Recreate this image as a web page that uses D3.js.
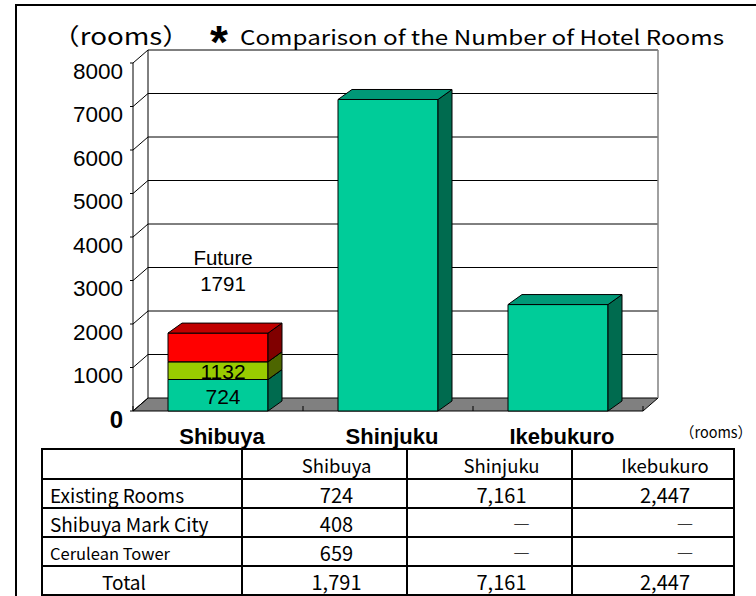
<!DOCTYPE html>
<html>
<head>
<meta charset="utf-8">
<script src="https://cdn.jsdelivr.net/npm/d3@7"></script>
<style>
  body { margin: 0; background: #fff; }
  svg { display: block; }
</style>
</head>
<body>
<div id="chart"></div>
<script>
const categories = ['Shibuya', 'Shinjuku', 'Ikebukuro'];
const existingRooms = [724, 7161, 2447];
const markCity = [408, 0, 0];
const ceruleanTower = [659, 0, 0];
const yTicks = [0, 1000, 2000, 3000, 4000, 5000, 6000, 7000, 8000];
const rowLabels = ['Existing Rooms', 'Shibuya Mark City', 'Cerulean Tower', 'Total'];

const width = 756;
const height = 596;
const gothic = '"Noto Sans CJK JP", "Noto Sans", sans-serif';
const arial = '"Liberation Sans", Arial, sans-serif';

const svg = d3.select('#chart')
  .append('svg')
  .attr('width', width)
  .attr('height', height);

// outer frame
svg.append('path')
  .attr('d', `M16,${height}V5H${width}`)
  .attr('fill', 'none')
  .attr('stroke', '#000')
  .attr('stroke-width', 2);

// 3d layout
const depth = { x: 15, y: -13 };
const barDepth = { x: 14, y: -10 };
const y = d3.scaleLinear().domain([0, 8000]).range([411, 63]);
const x = d3.scaleBand().domain(categories).range([133, 643]);
const barWidth = 100;
const barX = d => x(d) + (x.bandwidth() - barWidth) / 2;

const plot = svg.append('g');

// floor
const [x0, x1] = x.range();
plot.append('path')
  .attr('d', `M${x0},${y(0)}L${x1},${y(0)}L${x1 + depth.x},${y(0) + depth.y}L${x0 + depth.x},${y(0) + depth.y}Z`)
  .attr('fill', '#808080')
  .attr('stroke', '#000')
  .attr('stroke-width', 1);

// back wall gridlines and left wall diagonals
yTicks.forEach(t => {
  const yb = y(t) + depth.y;
  if (t > 0) {
    plot.append('line')
      .attr('x1', x0 + depth.x).attr('x2', x1 + depth.x)
      .attr('y1', yb).attr('y2', yb)
      .attr('stroke', '#000');
  }
  plot.append('line')
    .attr('x1', x0).attr('y1', y(t))
    .attr('x2', x0 + depth.x).attr('y2', yb)
    .attr('stroke', '#000');
  plot.append('line')
    .attr('x1', x0 - 3).attr('x2', x0)
    .attr('y1', y(t)).attr('y2', y(t))
    .attr('stroke', '#000');
});

// wall edges
plot.append('line')
  .attr('x1', x0).attr('x2', x0)
  .attr('y1', y(8000)).attr('y2', y(0))
  .attr('stroke', '#000');
plot.append('line')
  .attr('x1', x0 + depth.x).attr('x2', x0 + depth.x)
  .attr('y1', y(8000) + depth.y).attr('y2', y(0) + depth.y)
  .attr('stroke', '#000');
plot.append('line')
  .attr('x1', x1 + depth.x).attr('x2', x1 + depth.x)
  .attr('y1', y(8000) + depth.y).attr('y2', y(0) + depth.y)
  .attr('stroke', '#808080')
  .attr('stroke-width', 1.5);

// category ticks on the floor edge
d3.range(categories.length + 1).forEach(i => {
  const tx = x0 + i * x.bandwidth();
  plot.append('line')
    .attr('x1', tx).attr('x2', tx)
    .attr('y1', y(0) - 5).attr('y2', y(0))
    .attr('stroke', '#000');
});

// y tick labels
svg.append('g')
  .selectAll('text')
  .data(yTicks)
  .join('text')
  .attr('x', 123)
  .attr('y', d => y(d) + 8)
  .attr('text-anchor', 'end')
  .attr('dominant-baseline', 'central')
  .attr('font-family', arial)
  .attr('font-size', d => d === 0 ? 24 : 22.5)
  .attr('font-weight', d => d === 0 ? 'bold' : 'normal')
  .text(d => d);

// stacked bars
const table = categories.map((c, i) => ({
  category: c,
  existing: existingRooms[i],
  mark: markCity[i],
  cerulean: ceruleanTower[i]
}));
const keys = ['existing', 'mark', 'cerulean'];
const colors = {
  existing: { front: '#00CC99', top: '#009977', side: '#006B4F' },
  mark: { front: '#99CC00', top: '#7A9900', side: '#4D6600' },
  cerulean: { front: '#FF0000', top: '#C00000', side: '#800000' }
};
const stack = d3.stack().keys(keys)(table);

const bars = svg.append('g');
stack.forEach(series => {
  const col = colors[series.key];
  series.forEach((seg, i) => {
    if (seg[1] - seg[0] <= 0) return;
    const bx = barX(categories[i]);
    const yTop = y(seg[1]);
    const yBot = y(seg[0]);
    const g = bars.append('g')
      .attr('stroke', '#000')
      .attr('stroke-width', 1)
      .attr('stroke-linejoin', 'round');
    g.append('rect')
      .attr('x', bx).attr('y', yTop)
      .attr('width', barWidth).attr('height', yBot - yTop)
      .attr('fill', col.front);
    g.append('path')
      .attr('d', `M${bx + barWidth},${yTop}L${bx + barWidth + barDepth.x},${yTop + barDepth.y}L${bx + barWidth + barDepth.x},${yBot + barDepth.y}L${bx + barWidth},${yBot}Z`)
      .attr('fill', col.side);
    g.append('path')
      .attr('d', `M${bx},${yTop}L${bx + barDepth.x},${yTop + barDepth.y}L${bx + barWidth + barDepth.x},${yTop + barDepth.y}L${bx + barWidth},${yTop}Z`)
      .attr('fill', col.top);
  });
});

// Shibuya labels (cumulative totals)
const shibuya = 0;
const labelX = barX(categories[shibuya]) + barWidth / 2 + 5;
const cum = stack.map(s => s[shibuya]);
const labels = svg.append('g')
  .attr('font-family', arial)
  .attr('text-anchor', 'middle')
  .attr('dominant-baseline', 'central');
labels.append('text')
  .attr('x', labelX).attr('y', (y(cum[0][0]) + y(cum[0][1])) / 2 + 1)
  .attr('font-size', 21)
  .text(cum[0][1]);
labels.append('text')
  .attr('x', labelX).attr('y', (y(cum[1][0]) + y(cum[1][1])) / 2 + 1)
  .attr('font-size', 21)
  .text(cum[1][1]);
labels.append('text')
  .attr('x', labelX).attr('y', 257)
  .attr('font-size', 20.5)
  .text('Future');
labels.append('text')
  .attr('x', labelX).attr('y', 283)
  .attr('font-size', 20.5)
  .text(cum[2][1]);

// category labels
svg.append('g')
  .selectAll('text')
  .data(categories)
  .join('text')
  .attr('x', d => barX(d) + barWidth / 2 + 4)
  .attr('y', 444)
  .attr('text-anchor', 'middle')
  .attr('font-family', arial)
  .attr('font-weight', 'bold')
  .attr('font-size', 22)
  .text(d => d);

// titles
svg.append('text')
  .attr('x', 52).attr('y', 45)
  .attr('font-family', gothic)
  .attr('font-size', 23)
  .attr('textLength', 138)
  .attr('lengthAdjust', 'spacingAndGlyphs')
  .text('（rooms）');
svg.append('text')
  .attr('x', 210).attr('y', 58)
  .attr('font-family', arial)
  .attr('font-weight', 'bold')
  .attr('font-size', 46)
  .text('*');
svg.append('text')
  .attr('x', 240).attr('y', 45)
  .attr('font-family', gothic)
  .attr('font-size', 20.5)
  .attr('textLength', 484)
  .attr('lengthAdjust', 'spacingAndGlyphs')
  .text('Comparison of the Number of Hotel Rooms');
svg.append('text')
  .attr('x', 680).attr('y', 438)
  .attr('font-family', gothic)
  .attr('font-size', 15)
  .attr('textLength', 72)
  .attr('lengthAdjust', 'spacingAndGlyphs')
  .text('（rooms）');

// data table
const colEdges = [42, 242, 407, 572, 734];
const rowEdges = [449, 479, 508, 537, 566, 595];
const fmt = d3.format(',');
const totals = categories.map((c, i) => existingRooms[i] + markCity[i] + ceruleanTower[i]);
const cellRows = [
  existingRooms,
  markCity,
  ceruleanTower,
  totals
];

const tbl = svg.append('g').attr('font-family', gothic);
tbl.append('rect')
  .attr('x', colEdges[0]).attr('y', rowEdges[0])
  .attr('width', colEdges[4] - colEdges[0])
  .attr('height', rowEdges[5] - rowEdges[0])
  .attr('fill', 'none')
  .attr('stroke', '#000')
  .attr('stroke-width', 2);
rowEdges.slice(1, -1).forEach(ry => {
  tbl.append('line')
    .attr('x1', colEdges[0]).attr('x2', colEdges[4])
    .attr('y1', ry).attr('y2', ry)
    .attr('stroke', '#000').attr('stroke-width', 2);
});
colEdges.slice(1, -1).forEach(cx => {
  tbl.append('line')
    .attr('x1', cx).attr('x2', cx)
    .attr('y1', rowEdges[0]).attr('y2', rowEdges[5])
    .attr('stroke', '#000').attr('stroke-width', 2);
});

const rowMid = i => (rowEdges[i] + rowEdges[i + 1]) / 2 + 1;
const colMid = j => (colEdges[j + 1] + colEdges[j + 2]) / 2 + 12;

tbl.selectAll('text.head')
  .data(categories)
  .join('text')
  .attr('class', 'head')
  .attr('x', (d, j) => colMid(j))
  .attr('y', rowMid(0))
  .attr('text-anchor', 'middle')
  .attr('dominant-baseline', 'central')
  .attr('font-size', 18.5)
  .text(d => d);

rowLabels.forEach((label, i) => {
  const isTotal = i === rowLabels.length - 1;
  tbl.append('text')
    .attr('x', isTotal ? 124 : 50)
    .attr('y', rowMid(i + 1))
    .attr('text-anchor', isTotal ? 'middle' : 'start')
    .attr('dominant-baseline', 'central')
    .attr('font-size', i === 2 ? 16.5 : 19)
    .text(label);
  cellRows[i].forEach((v, j) => {
    tbl.append('text')
      .attr('x', v ? colMid(j) : colMid(j) + 20)
      .attr('y', rowMid(i + 1))
      .attr('text-anchor', 'middle')
      .attr('dominant-baseline', 'central')
      .attr('font-size', v ? 20 : 17)
      .text(v ? fmt(v) : '―');
  });
});
</script>
</body>
</html>
